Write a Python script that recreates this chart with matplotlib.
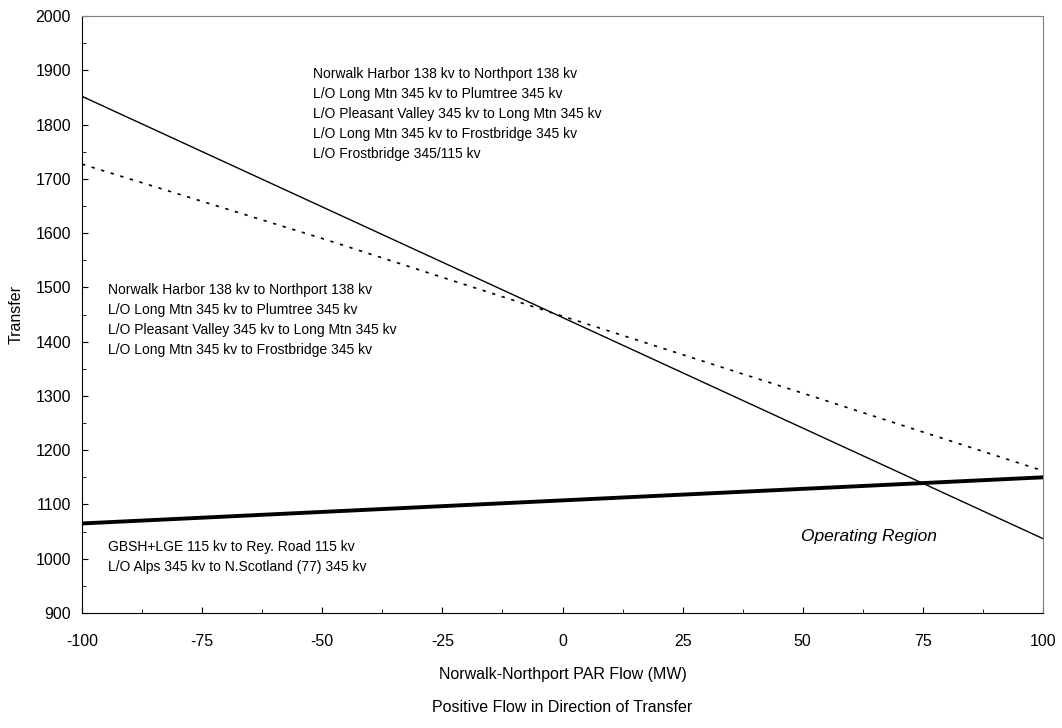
import matplotlib
matplotlib.use("Agg")
import matplotlib.pyplot as plt
from matplotlib.ticker import MultipleLocator

plt.rcParams['font.family'] = ['Liberation Sans', 'DejaVu Sans']
plt.rcParams['axes.unicode_minus'] = False

# PAR flow (MW) and transfer limits
flow = [-100, 100]
limit_thermal = [1852, 1037]       # thin solid
limit_dotted_x = [-100, -50, 0, 50, 100]
limit_dotted = [1727, 1590, 1447, 1305, 1162]
limit_voltage = [1065, 1150]       # thick solid

upper_lines = ["Norwalk Harbor 138 kv to Northport 138 kv",
               "L/O Long Mtn 345 kv to Plumtree 345 kv",
               "L/O Pleasant Valley 345 kv to Long Mtn 345 kv",
               "L/O Long Mtn 345 kv to Frostbridge 345 kv",
               "L/O Frostbridge 345/115 kv"]
middle_lines = upper_lines[:4]
lower_lines = ["GBSH+LGE 115 kv to Rey. Road 115 kv",
               "L/O Alps 345 kv to N.Scotland (77) 345 kv"]

fig = plt.figure(figsize=(10.62, 7.28), dpi=100)
ax = fig.add_axes([82/1062, 1-613/728, 961/1062, 597/728])

ax.plot(flow, limit_thermal, color='black', lw=1.0)
ax.plot(limit_dotted_x, limit_dotted, color='black', lw=1.2, ls=(0, (2, 4)))
ax.plot(flow, limit_voltage, color='black', lw=2.8)

ax.set_xlim(-100, 100)
ax.set_ylim(900, 2000)
ax.xaxis.set_major_locator(MultipleLocator(25))
ax.xaxis.set_minor_locator(MultipleLocator(12.5))
ax.yaxis.set_major_locator(MultipleLocator(100))
ax.yaxis.set_minor_locator(MultipleLocator(50))
ax.tick_params(which='both', direction='in', labelsize=11.5)
ax.tick_params(which='major', length=4)
ax.tick_params(which='minor', length=3)
ax.tick_params(axis='x', pad=15)
ax.tick_params(axis='y', pad=8)
ax.tick_params(top=False, right=False)
for s in ['top', 'right']:
    ax.spines[s].set_color('#808080')

fs = 10
for i, t in enumerate(upper_lines):
    ax.text(-52, 1894 - i * 37, t, fontsize=fs, va='center')
for i, t in enumerate(middle_lines):
    ax.text(-94.5, 1496 - i * 37, t, fontsize=fs, va='center')
for i, t in enumerate(lower_lines):
    ax.text(-94.5, 1021 - i * 37, t, fontsize=fs, va='center')
ax.text(63.8, 1041, "Operating Region", fontsize=12.5, style='italic', ha='center', va='center')

ax.set_ylabel("Transfer", fontsize=11.5)
ax.yaxis.set_label_coords(-(82 - 24) / 961, 0.5)
ax.set_xlabel("Norwalk-Northport PAR Flow (MW)", fontsize=11.5)
ax.xaxis.set_label_coords(0.5, -(675 - 613) / 597)
ax.xaxis.label.set_va('center')
fig.text((82 + 480.5) / 1062, 1 - 708/728, "Positive Flow in Direction of Transfer",
         fontsize=11.5, ha='center', va='center')

fig.savefig("out.png", dpi=100)
